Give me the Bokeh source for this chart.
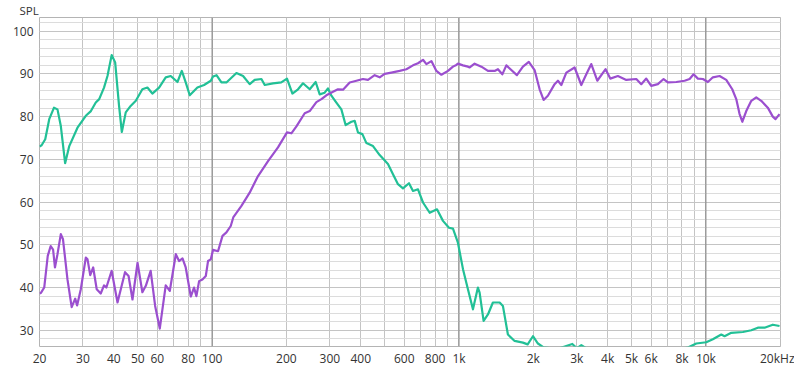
from bokeh.plotting import figure
from bokeh.models import FixedTicker, Span, Range1d
from bokeh.embed import file_html
from bokeh.resources import INLINE

# ---- data (Hz, dB SPL) ----
freq_green = [20.0, 20.4, 21.1, 21.9, 22.9, 23.65, 24.4, 25.4, 26.4, 28.5, 30.8, 32.3, 33.8, 34.9,
              36.5, 37.7, 39.2, 40.5, 42.0, 43.1, 44.7, 46.8, 49.1, 52.2, 54.7, 57.3, 61.0, 64.9,
              68.0, 72.4, 75.4, 78.2, 81.2, 87.2, 92.8, 98.8, 100.9, 104.2, 109.1, 114.3, 125.5,
              133.5, 142.0, 148.8, 158.4, 163.4, 176.5, 190.7, 201.1, 211.5, 222.9, 233.5, 248.6,
              262.8, 272.8, 285.8, 294.7, 304.2, 318.7, 333.9, 347.6, 366.6, 378.1, 389.9, 406.2,
              421.7, 448.5, 477.3, 515.6, 540.3, 566.1, 593.2, 627.3, 651.2, 682.3, 714.8, 760.9,
              814.5, 861.3, 910.8, 945.4, 990, 1038, 1087, 1139, 1193, 1212, 1258, 1310, 1372,
              1461, 1506, 1578, 1680, 1815, 1897, 1993, 2088, 2200, 2500, 2877, 3000, 3130, 3400,
              4500, 6000, 7500, 8500, 9140, 10030, 10670, 11540, 11900, 12670, 14120, 15270,
              16230, 17280, 18660, 19870]
spl_green = [73.0, 73.3, 74.7, 79.4, 82.1, 81.7, 77.8, 69.1, 73.1, 77.4, 80.2, 81.3, 83.3, 84.1,
             86.8, 89.5, 94.4, 92.7, 82.5, 76.4, 81.0, 82.5, 83.7, 86.4, 86.8, 85.4, 86.8, 89.2,
             89.5, 88.1, 90.7, 88.0, 85.0, 86.8, 87.4, 88.4, 89.4, 89.7, 88.0, 88.0, 90.2,
             89.5, 87.6, 88.6, 88.8, 87.4, 87.8, 88.0, 88.9, 85.4, 86.4, 87.8, 86.4,
             88.1, 85.2, 85.6, 86.6, 84.9, 83.3, 81.7, 78.0, 78.8, 79.0, 76.3, 75.9,
             73.8, 73.1, 71.0, 68.9, 66.5, 64.2, 63.2, 64.4, 62.6, 63.0, 59.9, 57.5,
             58.3, 55.6, 54.0, 53.8, 50.5, 44.3, 39.6, 34.9, 40.0, 38.8, 32.2, 33.7, 36.5,
             36.5, 35.7, 29.0, 27.5, 27.1, 26.7, 28.6, 26.9, 26.0, 25.6, 26.8, 25.8, 26.5, 25.2,
             24.8, 25.0, 25.3, 26.0, 26.9, 27.2, 27.9, 29.0, 28.6, 29.4, 29.6, 30.0,
             30.6, 30.6, 31.3, 31.0]

freq_purple = [20.0, 20.3, 20.9, 21.6, 22.2, 22.7, 23.1, 23.65, 24.4, 24.9, 25.96, 27.0, 27.9, 28.4,
               29.4, 30.8, 31.3, 32.1, 33.0, 34.1, 35.4, 36.5, 37.3, 39.2, 41.4, 44.4, 45.9, 47.6,
               49.9, 52.2, 53.9, 56.4, 58.8, 61.4, 64.9, 67.4, 71.3, 73.5, 75.9, 78.2, 82.0, 84.5,
               86.4, 88.6, 91.4, 94.3, 96.3, 98.8, 100.9, 105.7, 110.2, 114.3, 119.0, 122.0, 131.5,
               142.0, 153.5, 168.5, 184.9, 201.1, 209.5, 219.6, 237.2, 248.6, 264.5, 277.2, 290.3,
               308.8, 323.5, 339.0, 360.9, 384.1, 408.4, 427.9, 455.6, 477.3, 500, 532.3, 575,
               612.2, 651.2, 682.3, 714.8, 737.9, 773, 810, 848.6, 902.4, 945.4, 975.6, 990.3,
               1037.6, 1087, 1105, 1157, 1232, 1310, 1394, 1438, 1498, 1555, 1629, 1716, 1815,
               1918, 2024, 2121, 2201, 2291, 2439, 2516, 2597, 2721, 2939, 3129, 3278, 3434,
               3631, 3924, 4099, 4401, 4759, 5224, 5473, 5734, 6005, 6388, 6740, 7016, 7587,
               8199, 8589, 8915, 9280, 9723, 10186, 10670, 11360, 12090, 12786, 13270, 13690,
               14040, 14570, 15270, 15990, 16750, 17810, 18660, 19140, 19870]
spl_purple = [38.6, 38.8, 40.0, 47.4, 49.7, 48.9, 44.7, 47.8, 52.5, 51.3, 41.9, 35.4, 37.4, 35.8,
              39.6, 47.0, 46.6, 42.9, 44.7, 39.6, 38.6, 40.5, 40.0, 43.9, 36.5, 43.6, 42.7, 37.2,
              45.8, 38.9, 40.4, 43.9, 35.7, 30.4, 40.5, 39.2, 47.8, 46.2, 46.8, 44.7, 37.9, 40.0,
              38.0, 41.5, 41.9, 42.7, 46.2, 46.6, 48.8, 48.5, 52.1, 52.9, 54.4, 56.5, 59.1,
              62.2, 66.1, 69.6, 72.8, 76.3, 76.1, 77.7, 80.8, 81.3, 83.4, 84.1, 85.0,
              85.8, 86.4, 86.3, 88.0, 88.4, 88.8, 88.6, 89.7, 89.2, 90.0, 90.3, 90.7,
              91.1, 92.0, 92.5, 93.3, 92.3, 93.0, 90.7, 89.8, 90.7, 91.7, 92.1, 92.4,
              92.0, 91.7, 91.5, 92.4, 91.7, 90.7, 90.7, 91.1, 89.9, 92.0, 90.9, 89.7, 91.7,
              92.8, 90.9, 86.4, 83.9, 84.9, 87.6, 88.4, 87.4, 90.3, 91.5, 87.4, 89.9, 92.3,
              88.4, 91.1, 88.9, 89.5, 88.6, 88.8, 87.6, 88.9, 87.2, 87.6, 88.8, 88.0, 88.1,
              88.4, 88.8, 89.9, 88.9, 88.8, 88.1, 89.2, 89.5, 88.6, 86.4, 84.1, 80.6,
              78.8, 81.3, 83.7, 84.5, 83.7, 82.1, 80.0, 79.4, 80.6]

x_ticks = [20, 30, 40, 50, 60, 70, 80, 90, 100, 200, 300, 400, 500, 600, 700, 800, 900,
           1000, 2000, 3000, 4000, 5000, 6000, 7000, 8000, 9000, 10000, 20000]
x_tick_labels = ["20", "30", "40", "50", "60", "", "80", "", "100", "200", "300", "400", "",
                 "600", "", "800", "", "1k", "2k", "3k", "4k", "5k", "6k", "", "8k", "", "10k",
                 "20kHz"]
y_ticks = [30, 40, 50, 60, 70, 80, 90, 100]
y_minor_ticks = list(range(28, 104, 2))
decade_lines = [100, 1000, 10000]

GREEN = "#22c096"
PURPLE = "#9b4fcf"
FONT = "Open Sans"

p = figure(x_axis_type="log", x_range=Range1d(20, 20050), y_range=Range1d(26.2, 103.2),
           frame_width=741, frame_height=329,
           min_border_left=39, min_border_right=14, min_border_top=10, min_border_bottom=20,
           output_backend="svg", toolbar_location=None,
           background_fill_color="white", border_fill_color="white",
           title="SPL", title_location="above")

p.title.align = "left"
p.title.offset = -20
p.title.standoff = 0
p.title.text_font = FONT
p.title.text_font_size = "11.5px"
p.title.text_font_style = "normal"
p.title.text_color = "#333333"

p.xaxis.ticker = FixedTicker(ticks=x_ticks, minor_ticks=[])
p.xaxis.major_label_overrides = {t: lab for t, lab in zip(x_ticks, x_tick_labels)}
p.yaxis.ticker = FixedTicker(ticks=y_ticks, minor_ticks=y_minor_ticks)

for ax in (p.xaxis, p.yaxis):
    ax.axis_line_color = None
    ax.major_tick_line_color = None
    ax.minor_tick_line_color = None
    ax.major_tick_out = 0
    ax.major_tick_in = 0
    ax.major_label_text_font = FONT
    ax.major_label_text_font_size = "12px"
    ax.major_label_text_color = "#333333"
p.yaxis.major_label_standoff = 2
p.xaxis.major_label_standoff = 3

p.xgrid.grid_line_color = "#c4c4c4"
p.ygrid.grid_line_color = "#c4c4c4"
p.ygrid.minor_grid_line_color = "#dcdcdc"
p.outline_line_color = "#b4b4b4"

for f in decade_lines:
    p.add_layout(Span(location=f, dimension="height", line_color="#808080",
                      line_width=1, level="underlay"))

p.line(freq_green, spl_green, line_color=GREEN, line_width=2.2, line_join="round")
p.line(freq_purple, spl_purple, line_color=PURPLE, line_width=2.2, line_join="round")

with open("out.html", "w") as fh:
    fh.write(file_html(p, INLINE))
